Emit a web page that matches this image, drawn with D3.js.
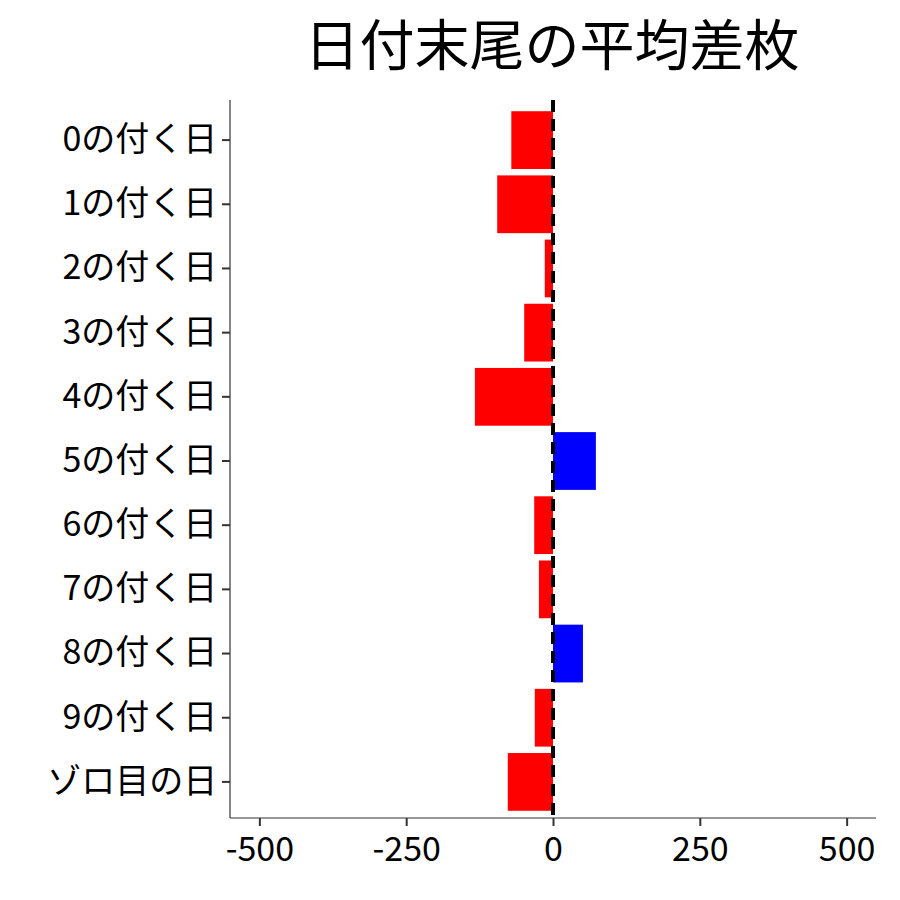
<!DOCTYPE html>
<html><head><meta charset="utf-8">
<script src="https://cdn.jsdelivr.net/npm/d3@7"></script>
<style>body{margin:0;background:#fff}</style></head>
<body><svg id="c" width="900" height="900"></svg>
<script>
const categories = ["0の付く日","1の付く日","2の付く日","3の付く日","4の付く日","5の付く日","6の付く日","7の付く日","8の付く日","9の付く日","ゾロ目の日"];
const values = [-71,-95,-14,-49,-133,73,-32,-24,51,-31,-77];
const xTicks = [-500,-250,0,250,500];
const title = "日付末尾の平均差枚";

const svg = d3.select("#c");
const font = "'Noto Sans CJK JP', sans-serif";
const L=230,R=876,T=100,B=818;
const x = d3.scaleLinear().domain([-550,550]).range([L,R]);
const y = d3.scaleBand().domain(categories).range([108,814]).paddingInner(0.1).paddingOuter(0.05);

svg.selectAll("rect.bar").data(values).join("rect")
  .attr("x",d=>x(Math.min(0,d))).attr("width",d=>Math.abs(x(d)-x(0)))
  .attr("y",(d,i)=>y(categories[i])).attr("height",y.bandwidth())
  .attr("fill",d=>d<0?"#ff0000":"#0000ff");

svg.append("line").attr("x1",x(0)).attr("x2",x(0)).attr("y1",T).attr("y2",B)
  .attr("stroke","#000").attr("stroke-width",4).attr("stroke-dasharray","12,7");

const gx = svg.append("g").attr("transform",`translate(0,${B})`)
  .call(d3.axisBottom(x).tickValues(xTicks).tickSize(8).tickSizeOuter(0).tickFormat(d=>String(d)));
const gy = svg.append("g").attr("transform",`translate(${L},0)`)
  .call(d3.axisLeft(y).tickSize(8).tickSizeOuter(0));
[gx,gy].forEach(g=>{
  g.select(".domain").attr("stroke","#333").attr("stroke-width",1.2);
  g.selectAll(".tick line").attr("stroke","#333").attr("stroke-width",2);
  g.selectAll("text").attr("font-family",font).attr("font-size",34).attr("fill","#000");
});
gy.select(".domain").attr("d",`M0,${T}V${B}`);
gx.select(".domain").attr("d",`M${L},0H${R}`);
gx.selectAll("text").attr("dy","0.95em");
gy.selectAll("text").attr("dx","-0.05em");

svg.append("text").attr("x",552).attr("y",65).attr("text-anchor","middle")
  .attr("font-family",font).attr("font-size",55).text(title);
</script></body></html>
